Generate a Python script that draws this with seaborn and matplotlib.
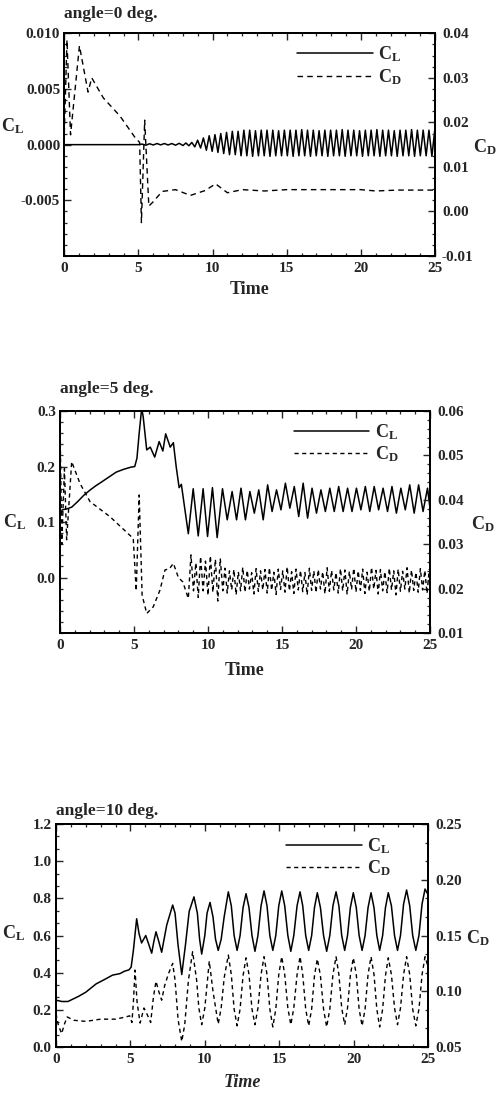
import numpy as np
import matplotlib
matplotlib.use("Agg")
import matplotlib.pyplot as plt
import seaborn as sns
from matplotlib.ticker import MultipleLocator, FixedLocator, FormatStrFormatter, AutoMinorLocator

sns.set_style("ticks")
plt.rcParams["font.family"] = ["Liberation Serif", "DejaVu Serif"]
plt.rcParams["font.weight"] = "bold"
plt.rcParams["axes.labelweight"] = "bold"
plt.rcParams["mathtext.fontset"] = "custom"
plt.rcParams["mathtext.rm"] = "Liberation Serif:bold"
plt.rcParams["mathtext.it"] = "Liberation Serif:italic:bold"
plt.rcParams["axes.unicode_minus"] = False

# ---------------- DATA ----------------
# angle = 0 deg
cl0_t = [0.0, 5.0, 5.25, 5.5, 5.75, 6.0, 6.25, 6.5, 6.75, 7.0, 7.25, 7.5, 7.75, 8.0, 8.2, 8.4,
         8.60, 8.80, 8.99, 9.19, 9.38, 9.58, 9.77, 9.97, 10.16, 10.36,
         10.55, 10.75, 10.94, 11.14, 11.33, 11.53, 11.72, 11.92, 12.11, 12.31,
         12.50, 12.70, 12.89, 13.09, 13.28, 13.48, 13.67, 13.87, 14.06, 14.26,
         14.45, 14.65, 14.84, 15.04, 15.23, 15.43, 15.62, 15.82, 16.01, 16.21,
         16.40, 16.60, 16.79, 16.99, 17.18, 17.38, 17.57, 17.77, 17.96, 18.16,
         18.35, 18.55, 18.74, 18.94, 19.13, 19.33, 19.52, 19.72, 19.91, 20.11,
         20.30, 20.50, 20.69, 20.89, 21.08, 21.28, 21.47, 21.67, 21.86, 22.06,
         22.25, 22.45, 22.64, 22.84, 23.03, 23.23, 23.42, 23.62, 23.81, 24.01,
         24.20, 24.40, 24.59, 24.79, 24.98]
cl0_v = [0.0, 0.0, 0.00005, -0.00005, 0.00008, -0.00003, 0.0001, -0.00002, 0.0001, -0.00003,
         0.0001, -0.00005, 0.00012, -0.00008, 0.00015, -0.0001,
         0.0002, -0.0002, 0.0004, -0.0003, 0.0006, -0.0005, 0.0008, -0.0006, 0.0009, -0.0007,
         0.0010, -0.0008, 0.0011, -0.0009, 0.0012, -0.0009, 0.0012, -0.0010, 0.0013, -0.0010,
         0.0013, -0.00105, 0.00125, -0.0010, 0.0013, -0.0010, 0.0013, -0.00105, 0.0013, -0.0010,
         0.00125, -0.0010, 0.0013, -0.0010, 0.0013, -0.00105, 0.0013, -0.0010, 0.00135, -0.0010,
         0.0013, -0.00105, 0.0013, -0.0010, 0.00125, -0.0010, 0.0013, -0.00105, 0.0013, -0.0010,
         0.0013, -0.0010, 0.00135, -0.00105, 0.0013, -0.0010, 0.0013, -0.0010, 0.00125, -0.00105,
         0.0013, -0.0010, 0.0013, -0.0010, 0.00135, -0.00105, 0.0013, -0.0010, 0.0013, -0.0010,
         0.00125, -0.00105, 0.0013, -0.0010, 0.0013, -0.0010, 0.00135, -0.00105, 0.0013, -0.0010,
         0.0013, -0.0010, 0.0013, -0.00105, 0.0013]
cd0_t = [0.0, 0.18, 0.42, 1.02, 1.60, 1.85, 2.63, 3.76, 4.77, 5.08, 5.20, 5.42, 5.70, 6.00,
         6.60, 7.50, 8.50, 9.50, 10.20, 11.00, 12.00, 13.50, 15.00, 17.50, 20.00, 21.00, 22.50, 25.00]
cd0_v = [0.0175, 0.0385, 0.0172, 0.0372, 0.0268, 0.0300, 0.0255, 0.0214, 0.0166, 0.0155, -0.0025,
         0.0205, 0.0012, 0.0022, 0.0045, 0.0049, 0.0036, 0.0047, 0.0062, 0.0042, 0.0049, 0.0046,
         0.0049, 0.0049, 0.0049, 0.0046, 0.0048, 0.0048]

# angle = 5 deg
cl5_t_start = [0.0, 0.15, 0.5, 0.8, 1.2, 1.6, 2.0, 2.4, 2.8, 3.3, 3.8, 4.3, 4.8, 5.05, 5.2,
               5.35, 5.52, 5.62, 5.86, 6.1, 6.4, 6.7, 6.95, 7.14, 7.45, 7.66, 7.85, 8.05, 8.2,
               8.4, 8.67, 9.0, 9.34, 9.67, 9.97, 10.3, 10.62, 10.98, 11.30]
cl5_v_start = [0.11, 0.122, 0.124, 0.127, 0.137, 0.148, 0.157, 0.165, 0.172, 0.181, 0.190,
               0.195, 0.199, 0.200, 0.215, 0.26, 0.305, 0.29, 0.23, 0.235, 0.217, 0.245, 0.228,
               0.259, 0.235, 0.243, 0.20, 0.162, 0.168, 0.13, 0.079, 0.160, 0.075, 0.160, 0.074,
               0.162, 0.072, 0.160, 0.104]
cl5_t_osc = [11.63, 11.93, 12.23, 12.53, 12.83, 13.13, 13.43, 13.73, 14.03, 14.33,
             14.63, 14.93, 15.23, 15.53, 15.83, 16.13, 16.43, 16.73, 17.03, 17.33,
             17.63, 17.93, 18.23, 18.53, 18.83, 19.13, 19.43, 19.73, 20.03, 20.33,
             20.63, 20.93, 21.23, 21.53, 21.83, 22.13, 22.43, 22.73, 23.03, 23.33,
             23.63, 23.93, 24.23, 24.53, 24.83, 25.0]
cl5_v_osc = [0.155, 0.104, 0.161, 0.104, 0.155, 0.116, 0.158, 0.104, 0.167, 0.119,
             0.158, 0.122, 0.170, 0.125, 0.164, 0.110, 0.170, 0.107, 0.161, 0.116,
             0.158, 0.119, 0.161, 0.119, 0.164, 0.119, 0.161, 0.119, 0.161, 0.122,
             0.164, 0.119, 0.164, 0.122, 0.161, 0.119, 0.164, 0.116, 0.161, 0.122,
             0.167, 0.116, 0.167, 0.119, 0.161, 0.125]
cd5_t_start = [0.0, 0.12, 0.3, 0.45, 0.79, 1.35, 2.03, 3.38, 4.95, 5.15, 5.35, 5.55, 5.86,
               6.3, 6.76, 7.09, 7.4, 7.66, 8.0, 8.3, 8.67, 8.85, 9.02, 9.18, 9.34, 9.50, 9.67,
               9.83, 10.00, 10.16, 10.33, 10.50, 10.66, 10.83]
cd5_v_start = [0.058, 0.030, 0.047, 0.031, 0.0486, 0.0437, 0.0396, 0.0362, 0.0313, 0.0195,
               0.0411, 0.0185, 0.0144, 0.0159, 0.0197, 0.0242, 0.0245, 0.0257, 0.0225, 0.0215,
               0.0178, 0.0276, 0.0195, 0.0258, 0.0180, 0.0272, 0.0195, 0.0262, 0.0185, 0.0274,
               0.0192, 0.0266, 0.0172, 0.0268]
cd5_t_osc = [11.00, 11.15, 11.30, 11.45, 11.60, 11.75, 11.90, 12.05, 12.20, 12.35,
             12.50, 12.65, 12.80, 12.95, 13.10, 13.25, 13.40, 13.55, 13.70, 13.85,
             14.00, 14.15, 14.30, 14.45, 14.60, 14.75, 14.90, 15.05, 15.20, 15.35,
             15.50, 15.65, 15.80, 15.95, 16.10, 16.25, 16.40, 16.55, 16.70, 16.85,
             17.00, 17.15, 17.30, 17.45, 17.60, 17.75, 17.90, 18.05, 18.20, 18.35,
             18.50, 18.65, 18.80, 18.95, 19.10, 19.25, 19.40, 19.55, 19.70, 19.85,
             20.00, 20.15, 20.30, 20.45, 20.60, 20.75, 20.90, 21.05, 21.20, 21.35,
             21.50, 21.65, 21.80, 21.95, 22.10, 22.25, 22.40, 22.55, 22.70, 22.85,
             23.00, 23.15, 23.30, 23.45, 23.60, 23.75, 23.90, 24.05, 24.20, 24.35,
             24.50, 24.65, 24.80, 24.95]
cd5_v_osc = [0.0195, 0.0246, 0.0190, 0.0240, 0.0197, 0.0243, 0.0186, 0.0238, 0.0195, 0.0248,
             0.0192, 0.0241, 0.0199, 0.0236, 0.0188, 0.0245, 0.0194, 0.0240, 0.0197, 0.0243,
             0.0190, 0.0247, 0.0196, 0.0237, 0.0187, 0.0244, 0.0198, 0.0240, 0.0192, 0.0249,
             0.0195, 0.0238, 0.0189, 0.0244, 0.0197, 0.0241, 0.0193, 0.0236, 0.0186, 0.0246,
             0.0196, 0.0240, 0.0191, 0.0243, 0.0199, 0.0238, 0.0188, 0.0247, 0.0194, 0.0241,
             0.0197, 0.0236, 0.0190, 0.0245, 0.0195, 0.0242, 0.0187, 0.0239, 0.0198, 0.0246,
             0.0192, 0.0240, 0.0196, 0.0244, 0.0189, 0.0237, 0.0194, 0.0248, 0.0199, 0.0241,
             0.0188, 0.0243, 0.0195, 0.0238, 0.0191, 0.0246, 0.0197, 0.0240, 0.0186, 0.0244,
             0.0194, 0.0239, 0.0199, 0.0247, 0.0190, 0.0242, 0.0196, 0.0237, 0.0192, 0.0245,
             0.0197, 0.0241, 0.0189, 0.0244]

# angle = 10 deg
cl10_t_start = [0.0, 0.4, 0.8, 1.5, 2.0, 2.7, 3.3, 3.8, 4.3, 4.6, 4.9, 5.05, 5.2, 5.42, 5.58,
                5.75, 6.03, 6.2, 6.43, 6.58, 6.72, 6.9, 7.1, 7.44, 7.84, 8.0, 8.2, 8.45, 8.7,
                8.95, 9.27, 9.5, 9.65, 9.79, 10.0, 10.15, 10.35, 10.55, 10.72]
cl10_v_start = [0.252, 0.245, 0.245, 0.272, 0.295, 0.340, 0.365, 0.387, 0.395, 0.408, 0.415,
                0.43, 0.52, 0.69, 0.61, 0.56, 0.60, 0.56, 0.505, 0.57, 0.62, 0.57, 0.51, 0.656,
                0.764, 0.72, 0.55, 0.39, 0.55, 0.73, 0.808, 0.72, 0.58, 0.50, 0.60, 0.72, 0.778,
                0.70, 0.58]
t10_osc = [10.9, 11.1, 11.3, 11.58, 11.78, 11.97, 12.17, 12.37, 12.57, 12.77, 12.97, 13.17,
           13.37, 13.57, 13.78, 13.98, 14.18, 14.37, 14.57, 14.77, 14.97, 15.17, 15.37, 15.58,
           15.78, 15.98, 16.20, 16.40, 16.58, 16.78, 16.98, 17.18, 17.37, 17.56, 17.77, 17.98,
           18.19, 18.40, 18.61, 18.82, 19.01, 19.20, 19.40, 19.59, 19.78, 19.98, 20.18, 20.37,
           20.57, 20.77, 20.97, 21.17, 21.37, 21.56, 21.75, 21.95, 22.14, 22.33, 22.54, 22.75,
           22.95, 23.15, 23.36, 23.56, 23.77, 23.97, 24.18, 24.39, 24.60, 24.80, 25.0]
cl10_v_osc = [0.52, 0.58, 0.70, 0.835, 0.76, 0.60, 0.52, 0.60, 0.75, 0.825, 0.75, 0.60,
              0.515, 0.60, 0.76, 0.84, 0.76, 0.60, 0.52, 0.60, 0.76, 0.84, 0.76, 0.60,
              0.515, 0.60, 0.76, 0.835, 0.76, 0.60, 0.52, 0.60, 0.75, 0.83, 0.75, 0.60,
              0.515, 0.60, 0.76, 0.835, 0.76, 0.60, 0.52, 0.60, 0.75, 0.83, 0.75, 0.60,
              0.52, 0.60, 0.75, 0.83, 0.75, 0.60, 0.52, 0.60, 0.75, 0.83, 0.76, 0.60,
              0.52, 0.60, 0.77, 0.845, 0.76, 0.60, 0.52, 0.60, 0.77, 0.85, 0.82]
cd10_t_start = [0.0, 0.15, 0.38, 0.55, 0.75, 1.2, 2.0, 3.0, 4.0, 4.7, 4.95, 5.1, 5.2, 5.31,
                5.45, 5.65, 5.91, 6.1, 6.36, 6.55, 6.72, 6.9, 7.1, 7.3, 7.55, 7.84, 8.0, 8.2,
                8.45, 8.65, 8.9, 9.18, 9.45, 9.6, 9.79, 10.0, 10.3, 10.55]
cd10_v_start = [0.080, 0.070, 0.062, 0.070, 0.077, 0.074, 0.073, 0.075, 0.075, 0.077, 0.078,
                0.072, 0.090, 0.119, 0.090, 0.0715, 0.085, 0.080, 0.072, 0.095, 0.109, 0.100,
                0.092, 0.105, 0.1155, 0.125, 0.110, 0.075, 0.055, 0.070, 0.110, 0.1355, 0.110,
                0.085, 0.070, 0.085, 0.127, 0.100]
cd10_v_osc = [0.0706, 0.085, 0.112, 0.1325, 0.115, 0.084, 0.069, 0.084, 0.114, 0.130, 0.115,
              0.084, 0.070, 0.085, 0.115, 0.131, 0.115, 0.084, 0.068, 0.084, 0.115, 0.131,
              0.115, 0.085, 0.070, 0.085, 0.115, 0.131, 0.115, 0.084, 0.069, 0.084, 0.114,
              0.129, 0.114, 0.084, 0.068, 0.084, 0.115, 0.131, 0.115, 0.085, 0.070, 0.085,
              0.114, 0.130, 0.115, 0.084, 0.069, 0.084, 0.115, 0.131, 0.115, 0.084, 0.068,
              0.084, 0.114, 0.130, 0.115, 0.085, 0.070, 0.085, 0.115, 0.131, 0.115, 0.084,
              0.069, 0.084, 0.115, 0.131, 0.122]

titles = ["angle=0 deg.", "angle=5 deg.", "angle=10 deg."]
x_ticks = [0, 5, 10, 15, 20, 25]

# ---------------- FIGURE ----------------
fig = plt.figure(figsize=(4.97, 10.95), dpi=100)

panels = [
    dict(rect=[0.1294, 0.7662, 0.7459, 0.2034],
         cl=(cl0_t, cl0_v), cd=(cd0_t, cd0_v),
         cl_lim=(-0.010, 0.010), cd_lim=(-0.01, 0.04),
         cl_major=FixedLocator([-0.005, 0.0, 0.005, 0.010]), cl_minor=MultipleLocator(0.001),
         cd_major=MultipleLocator(0.01), cd_minor=MultipleLocator(0.0025),
         cl_fmt="%.3f", cd_fmt="%.2f", title_y=1.085, italic=False,
         leg=(0.91, 0.95), cl_lab=(-0.14, 0.585), cd_lab=(1.135, 0.49), xlab_y=-0.152,
         dash=(4, 3)),
    dict(rect=[0.1207, 0.4219, 0.7445, 0.2027],
         cl=(cl5_t_start + cl5_t_osc, cl5_v_start + cl5_v_osc),
         cd=(cd5_t_start + cd5_t_osc, cd5_v_start + cd5_v_osc),
         cl_lim=(-0.1, 0.3), cd_lim=(0.01, 0.06),
         cl_major=FixedLocator([0.0, 0.1, 0.2, 0.3]), cl_minor=MultipleLocator(0.02),
         cd_major=MultipleLocator(0.01), cd_minor=MultipleLocator(0.002),
         cl_fmt="%.1f", cd_fmt="%.2f", title_y=1.1, italic=False,
         leg=(0.915, 0.95), cl_lab=(-0.122, 0.50), cd_lab=(1.143, 0.49), xlab_y=-0.167,
         dash=(3, 2.5)),
    dict(rect=[0.1127, 0.0438, 0.7485, 0.2037],
         cl=(cl10_t_start + t10_osc, cl10_v_start + cl10_v_osc),
         cd=(cd10_t_start + t10_osc, cd10_v_start + cd10_v_osc),
         cl_lim=(0.0, 1.2), cd_lim=(0.05, 0.25),
         cl_major=MultipleLocator(0.2), cl_minor=AutoMinorLocator(3),
         cd_major=MultipleLocator(0.05), cd_minor=AutoMinorLocator(3),
         cl_fmt="%.1f", cd_fmt="%.2f", title_y=1.06, italic=True,
         leg=(0.90, 0.945), cl_lab=(-0.113, 0.51), cd_lab=(1.134, 0.489), xlab_y=-0.157,
         dash=(3, 2.5)),
]

for title, p in zip(titles, panels):
    ax = fig.add_axes(p["rect"])
    sns.lineplot(x=p["cl"][0], y=p["cl"][1], ax=ax, color="black", linewidth=1.1,
                 sort=False, estimator=None, label="C$_\\mathrm{L}$", legend=False)
    ax2 = ax.twinx()
    sns.lineplot(x=p["cd"][0], y=p["cd"][1], ax=ax2, color="black", linewidth=1.0,
                 sort=False, estimator=None, label="C$_\\mathrm{D}$", legend=False)
    l1 = ax.lines[0]
    l2 = ax2.lines[0]
    l2.set_dashes(p["dash"])

    ax.set_xlim(0, 25)
    ax.set_ylim(*p["cl_lim"])
    ax2.set_ylim(*p["cd_lim"])
    ax.xaxis.set_major_locator(FixedLocator(x_ticks))
    ax.xaxis.set_minor_locator(MultipleLocator(1))
    ax.yaxis.set_major_locator(p["cl_major"])
    ax.yaxis.set_minor_locator(p["cl_minor"])
    ax.yaxis.set_major_formatter(FormatStrFormatter(p["cl_fmt"]))
    ax2.yaxis.set_major_locator(p["cd_major"])
    ax2.yaxis.set_minor_locator(p["cd_minor"])
    ax2.yaxis.set_major_formatter(FormatStrFormatter(p["cd_fmt"]))

    ax.tick_params(axis="x", which="both", direction="in", top=True, bottom=True,
                   labelsize=11, pad=4)
    ax.tick_params(axis="y", which="both", direction="in", left=True, right=False,
                   labelsize=11, pad=3)
    ax2.tick_params(axis="y", which="both", direction="in", right=True, left=False,
                    labelsize=11, pad=5)
    for a in (ax, ax2):
        a.tick_params(which="major", length=5, width=1.0)
        a.tick_params(which="minor", length=2.5, width=0.9)
        for s in a.spines.values():
            s.set_linewidth(1.4)
            s.set_color("black")

    ax.set_xlabel("Time", fontsize=13, fontweight="bold",
                  fontstyle="italic" if p["italic"] else "normal")
    ax.xaxis.set_label_coords(0.5, p["xlab_y"])
    ax.xaxis.label.set_va("center")
    ax.set_ylabel("C$_\\mathrm{L}$", fontsize=13, rotation=0, ha="center", va="center")
    ax.yaxis.set_label_coords(*p["cl_lab"])
    ax2.set_ylabel("C$_\\mathrm{D}$", fontsize=13, rotation=0, ha="center", va="center")
    ax2.yaxis.set_label_coords(*p["cd_lab"])

    ax.text(0.0, p["title_y"], title, transform=ax.transAxes, ha="left", va="center",
            fontsize=12.5, fontweight="bold")

    ax2.legend([l1, l2], ["C$_\\mathrm{L}$", "C$_\\mathrm{D}$"], loc="upper right",
               bbox_to_anchor=p["leg"], frameon=False, fontsize=13, handlelength=4.2,
               handletextpad=0.3, labelspacing=0.15, borderaxespad=0, borderpad=0)

fig.savefig("out.png", dpi=100)
